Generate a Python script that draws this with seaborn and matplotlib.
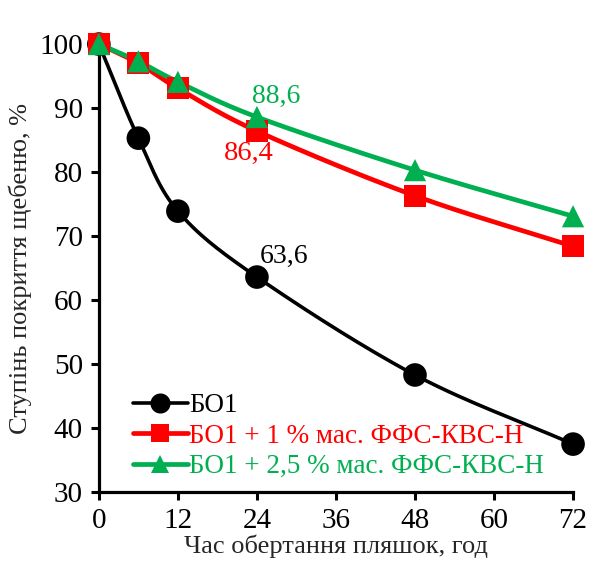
import numpy as np
import pandas as pd
import matplotlib
matplotlib.use("Agg")
import matplotlib.pyplot as plt
import seaborn as sns

hours = [0, 6, 12, 24, 48, 72]
bo1 = [100, 85.3, 73.9, 63.6, 48.3, 37.5]
bo1_1 = [100, 97.0, 93.1, 86.4, 76.3, 68.4]
bo1_25 = [100, 97.3, 94.1, 88.6, 80.3, 73.1]
series_names = ["БО1", "БО1 + 1 % мас. ФФС-КВС-Н", "БО1 + 2,5 % мас. ФФС-КВС-Н"]
colors = ["#000000", "#FF0000", "#00B050"]
markers = ["o", "s", "^"]
x_ticks = [0, 12, 24, 36, 48, 60, 72]
y_ticks = [30, 40, 50, 60, 70, 80, 90, 100]

sns.set_theme(style="white")
plt.rcParams["font.family"] = ["Liberation Serif", "DejaVu Serif"]

df = pd.DataFrame({
    "t": hours * 3,
    "v": bo1 + bo1_1 + bo1_25,
    "s": [series_names[0]] * 6 + [series_names[1]] * 6 + [series_names[2]] * 6,
})


def catmull(xs, ys, n=30):
    xs = np.asarray(xs, float)
    ys = np.asarray(ys, float)
    px = np.concatenate([[2 * xs[0] - xs[1]], xs, [2 * xs[-1] - xs[-2]]])
    py = np.concatenate([[2 * ys[0] - ys[1]], ys, [2 * ys[-1] - ys[-2]]])
    ox, oy = [], []
    for i in range(1, len(px) - 2):
        p0, p1, p2, p3 = [np.array([px[j], py[j]]) for j in range(i - 1, i + 3)]
        c1 = p1 + (p2 - p0) / 6
        c2 = p2 - (p3 - p1) / 6
        tt = np.linspace(0, 1, n)[:, None]
        b = ((1 - tt) ** 3) * p1 + 3 * ((1 - tt) ** 2) * tt * c1 + 3 * (1 - tt) * tt ** 2 * c2 + tt ** 3 * p2
        ox.extend(b[:, 0]); oy.extend(b[:, 1])
    return np.array(ox), np.array(oy)


fig = plt.figure(figsize=(5.92, 5.65), dpi=100)
ax = fig.add_axes([0.167, 0.129, 0.801, 0.793])

lws = [2.6, 3.4, 3.4]
msz = [17, 16, 16]
handles = []
for name, c, m, lw, ms in zip(series_names, colors, markers, lws, msz):
    sub = df[df["s"] == name]
    sx, sy = catmull(sub["t"].values, sub["v"].values)
    ax.plot(sx, sy, color=c, lw=lw, zorder=2, clip_on=False)
    sns.scatterplot(x=sub["t"], y=sub["v"], ax=ax, color=c, marker=m, s=ms ** 2,
                    edgecolor="none", zorder=3, clip_on=False, legend=False)
    h, = ax.plot([], [], color=c, lw=lw, marker=m, markersize=ms * 0.85, markeredgewidth=0)
    handles.append(h)

ax.set_xlim(0, 72)
ax.set_ylim(30, 100)
ax.set_xticks(x_ticks)
ax.set_yticks(y_ticks)
ax.tick_params(axis="both", labelsize=21, direction="out", length=5.5, width=2.2,
               colors="black", pad=6, left=True, bottom=True)
for sp in ["top", "right"]:
    ax.spines[sp].set_visible(False)
for sp in ["left", "bottom"]:
    ax.spines[sp].set_linewidth(2.3)
    ax.spines[sp].set_color("black")
ax.set_xlabel("Час обертання пляшок, год", fontsize=19, labelpad=0)
ax.set_ylabel("Ступінь покриття щебеню, %", fontsize=19, labelpad=5)

ax.text(24.4, 64.9, "63,6", color="black", fontsize=20, ha="left", va="bottom")
ax.text(19.0, 84.8, "86,4", color="#FF0000", fontsize=20.5, ha="left", va="top")
ax.text(23.3, 89.8, "88,6", color="#00B050", fontsize=20, ha="left", va="bottom")

leg = ax.legend(handles, series_names, loc="lower left", bbox_to_anchor=(0.05, 0.005),
                frameon=False, fontsize=19.5, handlelength=2.0, handletextpad=0.05,
                labelspacing=0.2, borderaxespad=0)
for t, c in zip(leg.get_texts(), colors):
    t.set_color(c)

fig.savefig("out.png", dpi=100)
